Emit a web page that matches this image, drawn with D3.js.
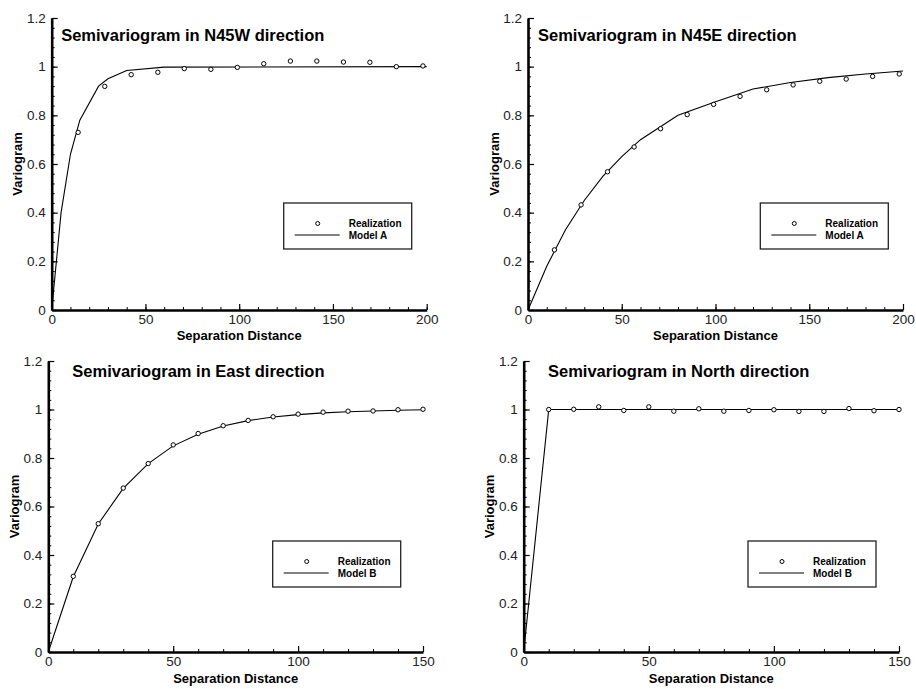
<!DOCTYPE html>
<html>
<head>
<meta charset="utf-8">
<style>
  body { margin: 0; background: #fff; }
  text { font-family: "Liberation Sans", Arial, sans-serif; }
</style>
</head>
<body>
<div id="container"></div>
<script src="https://cdn.jsdelivr.net/npm/d3@7"></script>
<script>
    // Data
    let lagDiag = [14.1, 28.3, 42.4, 56.6, 70.7, 84.9, 99.0, 113.1, 127.3, 141.4, 155.6, 169.7, 183.8, 198.0];
    let lagAxis = [10, 20, 30, 40, 50, 60, 70, 80, 90, 100, 110, 120, 130, 140, 150];

    let n45wReal = [0.730, 0.919, 0.967, 0.977, 0.992, 0.989, 0.997, 1.012, 1.023, 1.023, 1.019, 1.018, 1.000, 1.003];
    let n45wModelX = [0, 5, 10, 15, 25, 30, 40, 60, 200];
    let n45wModelY = [0, 0.40, 0.64, 0.78, 0.92, 0.95, 0.984, 0.998, 1.0];

    let n45eReal = [0.247, 0.432, 0.568, 0.670, 0.745, 0.803, 0.845, 0.878, 0.905, 0.925, 0.940, 0.949, 0.960, 0.970];
    let n45eModelX = [0, 10, 20, 30, 40, 50, 60, 80, 100, 120, 140, 160, 180, 200];
    let n45eModelY = [0, 0.18, 0.33, 0.45, 0.55, 0.63, 0.70, 0.80, 0.856, 0.908, 0.935, 0.955, 0.970, 0.982];

    let eastReal = [0.312, 0.529, 0.676, 0.777, 0.854, 0.901, 0.933, 0.955, 0.970, 0.981, 0.989, 0.993, 0.994, 0.999, 1.001];
    let eastModelX = [0, 10, 20, 30, 40, 50, 60, 70, 80, 90, 100, 110, 120, 130, 140, 150];
    let eastModelY = [0, 0.31, 0.528, 0.675, 0.777, 0.850, 0.898, 0.932, 0.954, 0.969, 0.979, 0.986, 0.991, 0.994, 0.997, 0.999];

    let northReal = [1.000, 1.001, 1.011, 0.996, 1.011, 0.993, 1.003, 0.993, 0.996, 0.999, 0.992, 0.992, 1.004, 0.995, 1.000];
    let northModelX = [0, 10, 150];
    let northModelY = [0, 1, 1];

    let yTicks = [0, 0.2, 0.4, 0.6, 0.8, 1, 1.2];
    let yTickLabels = ["0", "0.2", "0.4", "0.6", "0.8", "1", "1.2"];
    let xTicks200 = [0, 50, 100, 150, 200];
    let xTicks150 = [0, 50, 100, 150];

    // Panels (layout in pixels)
    let panels = [
        { title: "Semivariogram in N45W direction", lags: lagDiag, real: n45wReal, mx: n45wModelX, my: n45wModelY,
          model: "Model A", xTicks: xTicks200, left: 51.7, right: 426.7, top: 18, bottom: 310,
          titleDx: 9.5, titleDy: 22.7, legDx: 232, legUp: 107, sepDy: 30 },
        { title: "Semivariogram in N45E direction", lags: lagDiag, real: n45eReal, mx: n45eModelX, my: n45eModelY,
          model: "Model A", xTicks: xTicks200, left: 528, right: 903, top: 18, bottom: 310,
          titleDx: 10, titleDy: 22.7, legDx: 232.3, legUp: 107, sepDy: 30 },
        { title: "Semivariogram in East direction", lags: lagAxis, real: eastReal, mx: eastModelX, my: eastModelY,
          model: "Model B", xTicks: xTicks150, left: 48.3, right: 423, top: 361, bottom: 652,
          titleDx: 24, titleDy: 15.7, legDx: 224.4, legUp: 111, sepDy: 31 },
        { title: "Semivariogram in North direction", lags: lagAxis, real: northReal, mx: northModelX, my: northModelY,
          model: "Model B", xTicks: xTicks150, left: 523.7, right: 899, top: 361, bottom: 652,
          titleDx: 24.3, titleDy: 15.7, legDx: 224.3, legUp: 111, sepDy: 31 }
    ];

    let svg = d3.select("#container")
        .append("svg")
        .attr("width", 916)
        .attr("height", 689)
        .style("display", "block");

    svg.append("rect").attr("width", 916).attr("height", 689).attr("fill", "#fff");

    panels.forEach(p => {
        let xMax = p.xTicks[p.xTicks.length - 1];
        let x = d3.scaleLinear().domain([0, xMax]).range([p.left, p.right]);
        let y = d3.scaleLinear().domain([0, 1.2]).range([p.bottom, p.top]);
        let g = svg.append("g");

        // minor ticks
        let yMinor = d3.range(0, 1.2001, 0.04);
        let xMinor = d3.range(0, xMax + 0.001, 10);
        g.append("g")
            .attr("transform", `translate(${p.left},0)`)
            .call(d3.axisLeft(y).tickValues(yMinor).tickSize(-3).tickFormat(""))
            .call(a => a.select(".domain").remove())
            .selectAll("line").attr("stroke", "#000");
        g.append("g")
            .attr("transform", `translate(0,${p.bottom})`)
            .call(d3.axisBottom(x).tickValues(xMinor).tickSize(-3).tickFormat(""))
            .call(a => a.select(".domain").remove())
            .selectAll("line").attr("stroke", "#000");

        // major axes
        let ya = g.append("g")
            .attr("transform", `translate(${p.left},0)`)
            .call(d3.axisLeft(y).tickValues(yTicks).tickFormat((d, i) => yTickLabels[i])
                .tickSize(-6).tickSizeOuter(0).tickPadding(6));
        let xa = g.append("g")
            .attr("transform", `translate(0,${p.bottom})`)
            .call(d3.axisBottom(x).tickValues(p.xTicks).tickFormat(d3.format("d"))
                .tickSize(-6).tickSizeOuter(0).tickPadding(4));
        [ya, xa].forEach(a => {
            a.select(".domain").attr("stroke", "#000").attr("stroke-width", 2.6);
            a.selectAll(".tick line").attr("stroke", "#000").attr("stroke-width", 1.2);
            a.selectAll(".tick text").attr("font-size", 13.5).attr("fill", "#222")
                .attr("font-family", "Liberation Sans, Arial, sans-serif");
        });
        xa.selectAll(".tick text").attr("dy", "0.72em");

        // model line
        let modelPts = p.mx.map((v, i) => [v, p.my[i]]);
        g.append("path")
            .datum(modelPts)
            .attr("fill", "none")
            .attr("stroke", "#000")
            .attr("stroke-width", 1.1)
            .attr("d", d3.line().x(d => x(d[0])).y(d => y(d[1])));

        // realization points
        g.selectAll("circle.pt")
            .data(p.lags.map((v, i) => [v, p.real[i]]))
            .enter()
            .append("circle")
            .attr("class", "pt")
            .attr("cx", d => x(d[0]))
            .attr("cy", d => y(d[1]))
            .attr("r", 2.2)
            .attr("fill", "#fff")
            .attr("stroke", "#000")
            .attr("stroke-width", 1);

        // title
        g.append("text")
            .attr("x", p.left + p.titleDx)
            .attr("y", p.top + p.titleDy)
            .attr("font-size", 16.5)
            .attr("font-weight", "bold")
            .text(p.title);

        // axis titles
        g.append("text")
            .attr("x", (p.left + p.right) / 2)
            .attr("y", p.bottom + p.sepDy)
            .attr("text-anchor", "middle")
            .attr("font-size", 13)
            .attr("font-weight", "bold")
            .text("Separation Distance");
        g.append("text")
            .attr("transform", `translate(${p.left - 29.5},${(p.top + p.bottom) / 2}) rotate(-90)`)
            .attr("text-anchor", "middle")
            .attr("font-size", 13)
            .attr("font-weight", "bold")
            .text("Variogram");

        // legend
        let lx = p.left + p.legDx, ly = p.bottom - p.legUp;
        let leg = g.append("g").attr("transform", `translate(${lx},${ly})`);
        leg.append("rect")
            .attr("width", 128).attr("height", 46)
            .attr("fill", "#fff").attr("stroke", "#222").attr("stroke-width", 1.3);
        leg.append("circle")
            .attr("cx", 34).attr("cy", 20.5).attr("r", 2)
            .attr("fill", "#fff").attr("stroke", "#000").attr("stroke-width", 1);
        leg.append("line")
            .attr("x1", 11).attr("x2", 56).attr("y1", 32).attr("y2", 32)
            .attr("stroke", "#000").attr("stroke-width", 1);
        leg.append("text")
            .attr("x", 65).attr("y", 24)
            .attr("font-size", 10).attr("font-weight", "bold")
            .text("Realization");
        leg.append("text")
            .attr("x", 65).attr("y", 35.7)
            .attr("font-size", 10).attr("font-weight", "bold")
            .text(p.model);
    });
</script>
</body>
</html>
